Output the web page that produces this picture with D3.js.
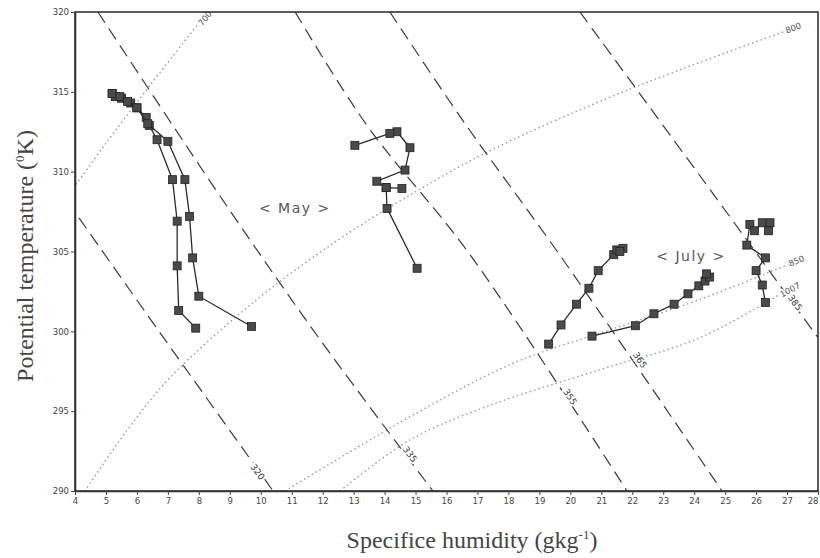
<!DOCTYPE html>
<html>
<head>
<meta charset="utf-8">
<script src="https://cdn.jsdelivr.net/npm/d3@7"></script>
<style>
body { margin: 0; background: #fff; }
</style>
</head>
<body>
<script>
// chart size
var w = 820, h = 558;

// axis ticks
var qTicks = d3.range(4, 29, 1);
var thetaTicks = [290, 295, 300, 305, 310, 315, 320];

// equivalent potential temperature isolines (dashed), [q, theta]
var thetaeLabels = ["320", "335", "355", "365", "385"];
var thetaeLines = [
    [[4.13, 307.1], [6.75, 299.9], [10.40, 290.0]],
    [[4.74, 320.0], [8.78, 308.2], [11.91, 299.5], [15.56, 290.0]],
    [[11.11, 320.0], [13.43, 312.9], [16.76, 304.8], [21.83, 290.0]],
    [[14.17, 320.0], [16.53, 313.2], [19.76, 304.5], [24.90, 290.0]],
    [[20.31, 320.0], [25.71, 305.7], [28.0, 299.6]]
];
var thetaeLabelPos = [[9.9, 291.2], [14.82, 292.3], [19.99, 295.9], [22.25, 298.2], [27.26, 301.8]];

// pressure curves (dotted)
var pressLabels = ["700", "800", "850", "1007"];
var pressLines = [
    [[4.03, 309.2], [4.97, 311.7], [6.42, 315.4], [8.20, 319.8]],
    [[4.32, 290.0], [5.68, 293.8], [7.07, 297.1], [9.88, 302.0], [12.56, 305.8], [15.14, 308.9], [17.50, 311.4], [21.83, 315.1], [27.09, 318.9]],
    [[10.78, 290.0], [15.05, 294.9], [18.15, 298.0], [21.28, 300.1], [24.19, 302.0], [27.19, 304.3]],
    [[12.56, 290.0], [14.82, 293.2], [17.31, 295.3], [20.96, 297.6], [24.19, 299.6], [27.09, 302.7]]
];
var pressLabelPos = [[8.2, 319.6], [27.2, 319.0], [27.3, 304.4], [27.1, 302.6]];

// May trajectories
var mayA_q = [5.2, 5.3, 5.5, 5.8, 6.0, 6.3, 6.4, 6.65, 7.15, 7.3, 7.3, 7.35, 7.9];
var mayA_t = [314.9, 314.7, 314.6, 314.3, 314.0, 313.4, 312.9, 312.0, 309.5, 306.9, 304.1, 301.3, 300.2];
var mayB_q = [5.2, 5.45, 5.7, 6.0, 6.35, 7.0, 7.55, 7.7, 7.8, 8.0, 9.7];
var mayB_t = [314.9, 314.7, 314.4, 314.0, 313.0, 311.9, 309.5, 307.2, 304.6, 302.2, 300.3];
var mayC_q = [15.05, 14.08, 14.05, 13.75, 14.66, 14.82, 14.40, 14.17, 13.04];
var mayC_t = [303.95, 307.7, 309.0, 309.4, 310.1, 311.5, 312.5, 312.4, 311.65];
var mayD_q = [14.05, 14.56];
var mayD_t = [309.0, 308.95];

// July trajectories
var julE_q = [19.3, 19.7, 20.2, 20.6, 20.9, 21.4, 21.5, 21.7, 21.6];
var julE_t = [299.2, 300.4, 301.7, 302.7, 303.8, 304.8, 305.1, 305.2, 305.0];
var julF_q = [20.7, 22.1, 22.7, 23.35, 23.8, 24.15, 24.35, 24.5, 24.4];
var julF_t = [299.7, 300.35, 301.1, 301.7, 302.35, 302.85, 303.15, 303.4, 303.6];
var julG_q = [26.3, 26.2, 26.0, 26.3, 25.7, 25.8, 25.95, 26.2, 26.45, 26.4];
var julG_t = [301.8, 302.9, 303.8, 304.6, 305.4, 306.7, 306.3, 306.8, 306.8, 306.3];

var series = [
    [mayA_q, mayA_t], [mayB_q, mayB_t], [mayC_q, mayC_t], [mayD_q, mayD_t],
    [julE_q, julE_t], [julF_q, julF_t], [julG_q, julG_t]
];

// month labels
var monthLabels = ["< May >", "< July >"];
var monthPos = [[11.1, 307.4], [23.9, 304.4]];

// scales
var x = d3.scaleLinear().domain([4, 28]).range([75, 818]);
var y = d3.scaleLinear().domain([290, 320]).range([491, 12]);

var svg = d3.select("body")
    .append("svg")
    .attr("width", w)
    .attr("height", h);

var plot = svg.append("g");

var line = d3.line()
    .x(function(d){ return x(d[0]); })
    .y(function(d){ return y(d[1]); });

var smooth = d3.line()
    .curve(d3.curveCatmullRom)
    .x(function(d){ return x(d[0]); })
    .y(function(d){ return y(d[1]); });

// clip to plot box
svg.append("clipPath").attr("id", "box")
    .append("rect")
    .attr("x", x(4)).attr("y", y(320))
    .attr("width", x(28) - x(4)).attr("height", y(290) - y(320));

// dotted pressure curves
plot.selectAll(".press")
    .data(pressLines)
    .enter()
    .append("path")
    .attr("class", "press")
    .attr("clip-path", "url(#box)")
    .attr("d", smooth)
    .attr("fill", "none")
    .attr("stroke", "#9a9a9a")
    .attr("stroke-width", 1.4)
    .attr("stroke-dasharray", "1.5,3");

// dashed theta-e lines
plot.selectAll(".thetae")
    .data(thetaeLines)
    .enter()
    .append("path")
    .attr("class", "thetae")
    .attr("clip-path", "url(#box)")
    .attr("d", smooth)
    .attr("fill", "none")
    .attr("stroke", "#3a3a3a")
    .attr("stroke-width", 1.2)
    .attr("stroke-dasharray", "13,7");

// angle of a line near a point, in screen space
function angleAt(pts, p){
    var best = 0, bd = 1e9;
    for (var i = 0; i < pts.length - 1; i++) {
        var mx = (pts[i][0] + pts[i+1][0]) / 2, my = (pts[i][1] + pts[i+1][1]) / 2;
        var dd = Math.abs(x(mx) - x(p[0])) + Math.abs(y(my) - y(p[1]));
        if (dd < bd) { bd = dd; best = i; }
    }
    var a = pts[best], b = pts[best + 1];
    return Math.atan2(y(b[1]) - y(a[1]), x(b[0]) - x(a[0])) * 180 / Math.PI;
}

plot.selectAll(".thetaeLabel")
    .data(thetaeLabels)
    .enter()
    .append("text")
    .attr("class", "thetaeLabel")
    .attr("transform", function(d, i){
        var p = thetaeLabelPos[i];
        return "translate(" + x(p[0]) + "," + y(p[1]) + ") rotate(" + angleAt(thetaeLines[i], p) + ")";
    })
    .attr("text-anchor", "middle")
    .attr("dy", "0.35em")
    .attr("font-family", "DejaVu Sans, sans-serif")
    .attr("font-size", 9)
    .attr("fill", "#333")
    .attr("stroke", "#fff")
    .attr("stroke-width", 4)
    .attr("paint-order", "stroke")
    .text(function(d){ return d; });

plot.selectAll(".pressLabel")
    .data(pressLabels)
    .enter()
    .append("text")
    .attr("class", "pressLabel")
    .attr("transform", function(d, i){
        var p = pressLabelPos[i];
        return "translate(" + x(p[0]) + "," + y(p[1]) + ") rotate(" + angleAt(pressLines[i], p) + ")";
    })
    .attr("text-anchor", "middle")
    .attr("dy", "0.35em")
    .attr("font-family", "DejaVu Sans, sans-serif")
    .attr("font-size", 8.5)
    .attr("fill", "#555")
    .attr("stroke", "#fff")
    .attr("stroke-width", 3)
    .attr("paint-order", "stroke")
    .text(function(d){ return d; });

// trajectories
var traj = plot.selectAll(".traj")
    .data(series)
    .enter()
    .append("g")
    .attr("class", "traj");

traj.append("path")
    .attr("d", function(s){
        return line(s[0].map(function(q, i){ return [q, s[1][i]]; }));
    })
    .attr("fill", "none")
    .attr("stroke", "#2a2a2a")
    .attr("stroke-width", 1.3);

traj.selectAll("rect")
    .data(function(s){ return s[0].map(function(q, i){ return [q, s[1][i]]; }); })
    .enter()
    .append("rect")
    .attr("x", function(d){ return x(d[0]) - 4; })
    .attr("y", function(d){ return y(d[1]) - 4; })
    .attr("width", 8)
    .attr("height", 8)
    .attr("fill", "#4a4a4a")
    .attr("stroke", "#222")
    .attr("stroke-width", 0.8);

plot.selectAll(".month")
    .data(monthLabels)
    .enter()
    .append("text")
    .attr("class", "month")
    .attr("x", function(d, i){ return x(monthPos[i][0]); })
    .attr("y", function(d, i){ return y(monthPos[i][1]); })
    .attr("text-anchor", "middle")
    .attr("font-family", "DejaVu Sans, sans-serif")
    .attr("font-size", 14)
    .attr("letter-spacing", 1.5)
    .attr("fill", "#555")
    .style("white-space", "pre")
    .text(function(d){ return d; });

// frame
svg.append("rect")
    .attr("x", x(4)).attr("y", y(320))
    .attr("width", x(28) - x(4)).attr("height", y(290) - y(320))
    .attr("fill", "none")
    .attr("stroke", "#333")
    .attr("stroke-width", 1.6);

// axes
var xAxis = svg.append("g")
    .attr("transform", "translate(0," + y(290) + ")")
    .call(d3.axisBottom(x).tickValues(qTicks).tickSize(4).tickSizeOuter(0));
var yAxis = svg.append("g")
    .attr("transform", "translate(" + x(4) + ",0)")
    .call(d3.axisLeft(y).tickValues(thetaTicks).tickSize(4).tickSizeOuter(0));

[xAxis, yAxis].forEach(function(a){
    a.select(".domain").attr("stroke", "#333").attr("stroke-width", 1.6);
    a.selectAll(".tick line").attr("stroke", "#444");
    a.selectAll(".tick text")
        .attr("font-family", "DejaVu Sans, sans-serif")
        .attr("font-size", 8.5)
        .attr("fill", "#444");
});
yAxis.selectAll(".tick text").attr("x", -6);
// last tick label sits at the right edge of the page
xAxis.selectAll(".tick text").filter(function(d){ return d === 28; })
    .attr("text-anchor", "end");

// axis titles
svg.append("text")
    .attr("x", 472)
    .attr("y", 548)
    .attr("text-anchor", "middle")
    .attr("font-family", "Liberation Serif, serif")
    .attr("font-size", 24)
    .attr("fill", "#444")
    .html("Specifice humidity (gkg<tspan dy='-9' font-size='13'>-1</tspan><tspan dy='9'>)</tspan>");

svg.append("text")
    .attr("transform", "translate(33,256) rotate(-90)")
    .attr("text-anchor", "middle")
    .attr("font-family", "Liberation Serif, serif")
    .attr("font-size", 24)
    .attr("fill", "#444")
    .html("Potential temperature (<tspan dy='-9' font-size='13'>0</tspan><tspan dy='9'>K)</tspan>");
</script>
</body>
</html>
